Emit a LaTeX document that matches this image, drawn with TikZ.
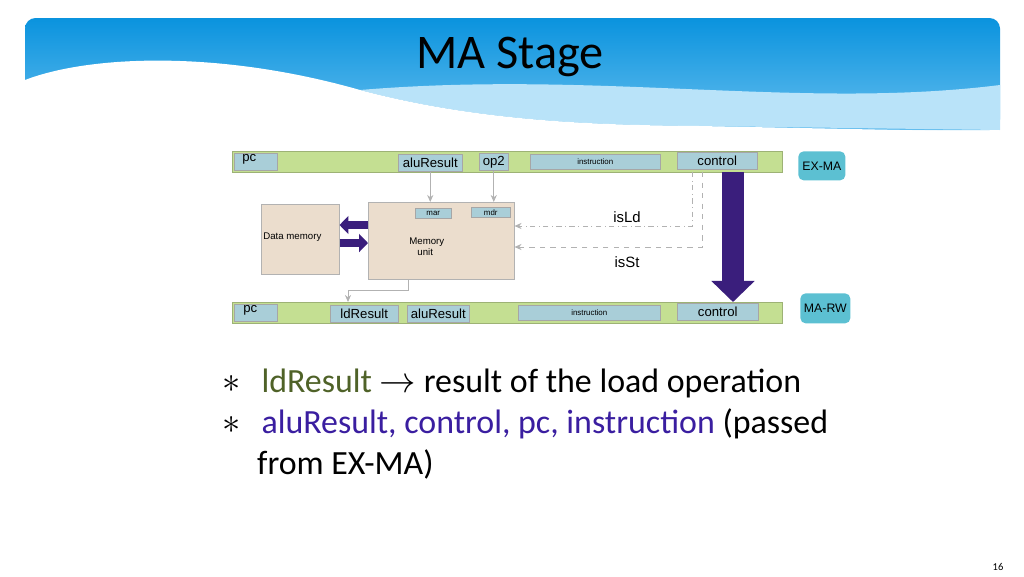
\documentclass[tikz,border=0pt]{standalone}
\usepackage{fontspec}
\setmainfont{Carlito}
\newfontfamily\diagfont{Liberation Sans}
\usetikzlibrary{positioning, arrows.meta, calc}
\definecolor{barGreen}{HTML}{C4DF92}
\definecolor{fieldBlue}{HTML}{A9CED8}
\definecolor{regTeal}{HTML}{5CC0D2}
\definecolor{memBeige}{HTML}{EBDDCD}
\definecolor{darkPurple}{HTML}{3A1E7C}
\definecolor{txtGreen}{HTML}{4F6228}
\definecolor{txtPurple}{HTML}{3A1EA0}
\definecolor{skyTop}{HTML}{0A93DE}
\definecolor{skyLow}{HTML}{8BD0F5}
\tikzset{
	bar/.style={fill=barGreen, draw=barGreen!80!black, line width=0.3pt, inner sep=0pt, anchor=north west},
	field/.style={fill=fieldBlue, draw=gray!70, line width=0.3pt, inner sep=0pt, anchor=north west, font=\diagfont\fontsize{7.5}{8}\selectfont},
	smallfield/.style={field, font=\diagfont\fontsize{4.5}{5}\selectfont},
	regbox/.style={fill=regTeal, rounded corners=3pt, inner sep=0pt, anchor=north west, font=\diagfont\fontsize{7}{8}\selectfont},
	mem/.style={fill=memBeige, draw=gray!60, line width=0.3pt, inner sep=0pt, anchor=north west, font=\diagfont\fontsize{5.5}{6.5}\selectfont, align=left},
	memtext/.style={inner sep=0pt, anchor=north west, font=\diagfont\fontsize{5.5}{6.5}\selectfont},
	fieldtext/.style={inner sep=0pt, anchor=north west, font=\diagfont\fontsize{7.5}{8}\selectfont},
	thin_arrow/.style={-{Stealth[length=4pt,width=3.5pt]}, gray!60, line width=0.5pt},
	fat_arrow/.style={-{Triangle[length=5pt,width=10pt]}, darkPurple, line width=4pt},
	sig_label/.style={font=\diagfont\fontsize{8.5}{9}\selectfont},
	bullet/.style={anchor=west, font=\fontsize{19.3}{23}\selectfont}
}
\begin{document}
\begin{tikzpicture}[x=0.02cm, y=-0.02cm]
	\useasboundingbox (0,0) rectangle (1024,576);
	
	% --- Banner ---
	\shade[top color=skyTop, bottom color=skyLow!70!skyTop, rounded corners=6pt]
		(25,130) -- (25,18) -- (1000,18) -- (1000,130) -- cycle;
	\fill[skyLow!60] (360,90) .. controls (480,122) and (600,125) .. (700,126)
		-- (1000,130) -- (1000,85) .. controls (800,110) and (600,70) .. (360,90);
	\fill[white] (25,80) .. controls (90,55) and (220,50) .. (360,90)
		.. controls (480,122) and (600,125) .. (700,126) -- (1000,132) -- (25,132) -- cycle;
	\node[font=\fontsize{27.5}{30}\selectfont] (title) at (510,57) {MA Stage};
	
	% --- Registro EX-MA ---
	\node[bar, minimum width=550*0.02cm, minimum height=21*0.02cm] (exma) at (232,151) {};
	\node[field, minimum width=43*0.02cm, minimum height=17*0.02cm] (pcA) at (234,153) {};
	\node[fieldtext] at (242,154) {pc};
	\node[field, minimum width=64*0.02cm, minimum height=17*0.02cm] (aluA) at (398,154) {aluResult};
	\node[field, minimum width=29*0.02cm, minimum height=17*0.02cm] (op2A) at (479,153) {op2};
	\node[smallfield, minimum width=130*0.02cm, minimum height=15*0.02cm] (instA) at (530,154) {instruction};
	\node[field, minimum width=80*0.02cm, minimum height=17*0.02cm] (ctrlA) at (677,152) {control};
	\node[regbox, minimum width=47*0.02cm, minimum height=29*0.02cm] (regA) at (798,151) {EX-MA};
	
	% --- Registro MA-RW ---
	\node[bar, minimum width=550*0.02cm, minimum height=21*0.02cm] (marw) at (232,302) {};
	\node[field, minimum width=43*0.02cm, minimum height=17*0.02cm] (pcB) at (234,304) {};
	\node[fieldtext] at (243,305) {pc};
	\node[field, minimum width=68*0.02cm, minimum height=17*0.02cm] (ldB) at (330,305) {ldResult};
	\node[field, minimum width=62*0.02cm, minimum height=17*0.02cm] (aluB) at (407,305) {aluResult};
	\node[smallfield, minimum width=142*0.02cm, minimum height=15*0.02cm] (instB) at (518,305) {instruction};
	\node[field, minimum width=81*0.02cm, minimum height=17*0.02cm] (ctrlB) at (677,303) {control};
	\node[regbox, minimum width=50*0.02cm, minimum height=30*0.02cm] (regB) at (800,293) {MA-RW};
	
	% --- Memorie ---
	\node[mem, minimum width=78*0.02cm, minimum height=70*0.02cm] (dmem) at (261,204) {};
	\node[memtext] at (263,232) {Data memory};
	\node[mem, minimum width=146*0.02cm, minimum height=77*0.02cm] (munit) at (368,202) {};
	\node[memtext, align=left] at (409,237) {Memory\\ \ \ \ unit};
	\node[smallfield, minimum width=36*0.02cm, minimum height=10*0.02cm] (mar) at (415,208) {mar};
	\node[smallfield, minimum width=39*0.02cm, minimum height=10*0.02cm] (mdr) at (471,207) {mdr};
	
	% --- Connessioni ---
	\draw[thin_arrow] (aluA.south) -- (aluA.south |- munit.north);
	\draw[thin_arrow] (op2A.south) -- (op2A.south |- munit.north);
	\coordinate (ldTap) at (692,172);
	\coordinate (stTap) at (702,172);
	\draw[thin_arrow, dash dot] (ldTap) |- (munit.east |- 0,226);
	\draw[thin_arrow, dashed] (stTap) |- (munit.east |- 0,247);
	\node[sig_label] (isLd) at (627,217) {isLd};
	\node[sig_label] (isSt) at (627,262) {isSt};
	\draw[thin_arrow] (408,279) -- (408,290) -- (348,290) -- (348,302);
	\draw[fat_arrow] (munit.west |- 0,225) -- (dmem.east |- 0,225);
	\draw[fat_arrow] (dmem.east |- 0,243) -- (munit.west |- 0,243);
	\draw[-{Triangle[length=12pt,width=24pt]}, darkPurple, line width=12pt] (733,172) -- (marw.north -| 733,0);
	
	% --- Testo ---
	\node[bullet] (b1) at (216,383) {$\ast$\hspace{12pt}\textcolor{txtGreen}{ldResult} $\rightarrow$ result of the load operation};
	\node[bullet] (b2) at (216,424) {$\ast$\hspace{12pt}\textcolor{txtPurple}{aluResult, control, pc, instruction} (passed};
	\node[bullet] (b3) at (251,464) {from EX-MA)};
	\node[font=\fontsize{6}{7}\selectfont] (pgnum) at (998,567) {16};
\end{tikzpicture}
\end{document}
